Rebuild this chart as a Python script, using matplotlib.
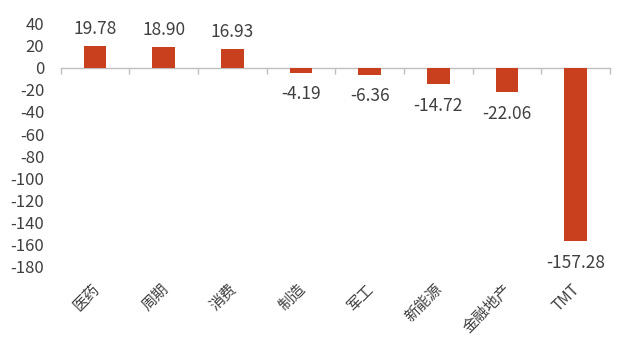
import numpy as np
import matplotlib.pyplot as plt
from matplotlib.transforms import blended_transform_factory

plt.rcParams['font.family'] = ['Noto Sans CJK SC', 'DejaVu Sans']
plt.rcParams['axes.unicode_minus'] = False

categories = ['医药', '周期', '消费', '制造', '军工', '新能源', '金融地产', 'TMT']
values = [19.78, 18.90, 16.93, -4.19, -6.36, -14.72, -22.06, -157.28]
yticks = list(range(40, -181, -20))

text_color = '#404040'
bar_color = '#C8401E'

fig = plt.figure(figsize=(6.21, 3.42), dpi=100)
ax = fig.add_axes([0.098, 0.222, 0.884, 0.708])

x = np.arange(len(categories))
ax.bar(x, values, width=0.33, color=bar_color, zorder=3)

for xi, v in zip(x, values):
    if v >= 0:
        ax.annotate(f'{v:.2f}', (xi, v), xytext=(0, 6), textcoords='offset points',
                    ha='center', va='bottom', fontsize=12.5, color=text_color)
    else:
        ax.annotate(f'{v:.2f}', (xi, v), xytext=(0, -9), textcoords='offset points',
                    ha='center', va='top', fontsize=12.5, color=text_color)

ax.set_xlim(-0.5, len(categories) - 0.5)
ax.set_ylim(-180, 40)
ax.set_yticks(yticks)
ax.tick_params(axis='y', length=0, labelsize=12, labelcolor=text_color, pad=12)

for s in ['top', 'right', 'left']:
    ax.spines[s].set_visible(False)
ax.spines['bottom'].set_position(('data', 0))
ax.spines['bottom'].set_color('#BFBFBF')
ax.spines['bottom'].set_linewidth(1)

ax.set_xticks(np.arange(len(categories) + 1) - 0.5)
ax.set_xticklabels([])
ax.tick_params(axis='x', direction='out', length=4, color='#BFBFBF', width=1)

trans = blended_transform_factory(ax.transData, ax.transAxes)
for xi, c in zip(x, categories):
    ax.text(xi - 0.06, -0.06, c, transform=trans, rotation=45, ha='right', va='top',
            rotation_mode='anchor', fontsize=11, color=text_color)

fig.savefig('out.png', dpi=100)
